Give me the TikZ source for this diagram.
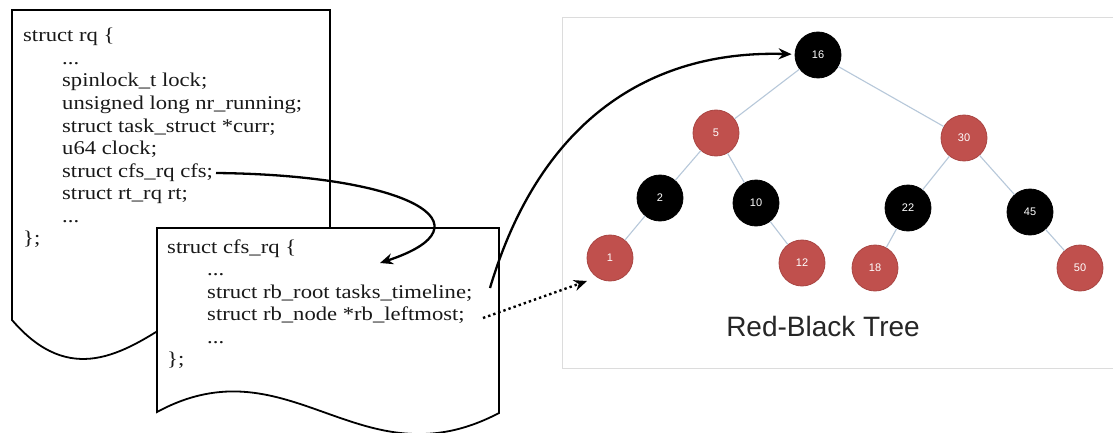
\documentclass[tikz,border=0pt]{standalone}
\usepackage{fontspec}
\setmainfont{Liberation Serif}[FakeStretch=1.16]
\newfontfamily\treefont{Liberation Sans}
\usetikzlibrary{arrows.meta}
\definecolor{rbred}{HTML}{C0504D}
\definecolor{rbredline}{HTML}{A94542}
\definecolor{edgecol}{HTML}{B7C8DA}
\definecolor{boxcol}{HTML}{DCDCDC}
\newcommand\codesize{\fontsize{19.5}{22.5}\selectfont}
\begin{document}
\begin{tikzpicture}[x=1pt,y=-1pt,
  docshape/.style={draw=black, line width=1.8pt, fill=white, line join=miter},
  code/.style={anchor=base west, inner sep=0pt, font=\codesize, text=black!90},
  rbnode/.style={circle, minimum size=46pt, inner sep=0pt, line width=0.8pt,
                 font=\treefont\fontsize{11}{11}\selectfont, text=white},
  blknode/.style={rbnode, fill=black, draw=black},
  rednode/.style={rbnode, fill=rbred, draw=rbredline},
  treeedge/.style={draw=edgecol, line width=1.1pt},
  arr/.style={-{Stealth[length=13pt,width=11pt]}, line width=2.3pt},
  dotarr/.style={-{Stealth[length=13pt,width=11pt]}, line width=2.4pt,
                 dash pattern=on 2.4pt off 3pt}]
\useasboundingbox (0,0) rectangle (1113,433);
\fill[white] (0,0) rectangle (1113,433);

% tree panel frame
\draw[boxcol, line width=0.8pt] (1113,17) -- (562,17) -- (562,368) -- (1113,368);

% document 1: struct rq
\path[docshape] (12,10) -- (330,10) -- (330,320)
   .. controls (224,185) and (128,455) .. (12,320) -- cycle;
\node[code] (rq0) at (23,42)    {struct rq \{};
\node[code] (rq1) at (62,64.5)  {...};
\node[code] (rq2) at (62,87)    {spinlock\_t lock;};
\node[code] (rq3) at (62,109.5) {unsigned long nr\_running;};
\node[code] (rq4) at (62,132)   {struct task\_struct *curr;};
\node[code] (rq5) at (62,154.5) {u64 clock;};
\node[code] (rq6) at (62,177)   {struct cfs\_rq cfs;};
\node[code] (rq7) at (62,199.5) {struct rt\_rq rt;};
\node[code] (rq8) at (62,222)   {...};
\node[code] (rq9) at (23,244.5) {\};};

% document 2: struct cfs_rq
\path[docshape] (157,228) -- (499,228) -- (499,413)
   .. controls (360,486) and (290,340) .. (157,412) -- cycle;
\node[code] (cf0) at (167,253)   {struct cfs\_rq \{};
\node[code] (cf1) at (207,275.5) {...};
\node[code] (cf2) at (207,298)   {struct rb\_root tasks\_timeline;};
\node[code] (cf3) at (207,320.5) {struct rb\_node *rb\_leftmost;};
\node[code] (cf4) at (207,343)   {...};
\node[code] (cf5) at (167,365.5) {\};};

% red-black tree
\node[blknode] (n16) at (818,55)  {16};
\node[rednode] (n5)  at (716,133) {5};
\node[rednode] (n30) at (964,138) {30};
\node[blknode] (n2)  at (660,198) {2};
\node[blknode] (n10) at (756,203) {10};
\node[blknode] (n22) at (908,208) {22};
\node[blknode] (n45) at (1030,212) {45};
\node[rednode] (n1)  at (610,258) {1};
\node[rednode] (n12) at (802,263) {12};
\node[rednode] (n18) at (875,268) {18};
\node[rednode] (n50) at (1080,268) {50};
\foreach \a/\b in {n16/n5,n16/n30,n5/n2,n5/n10,n30/n22,n30/n45,n2/n1,n10/n12,n22/n18,n45/n50}
  \draw[treeedge] (\a) -- (\b);
\node[font=\treefont\fontsize{28}{28}\selectfont, text=black!85] (title) at (823,326) {Red-Black Tree};

% connectors
\coordinate (a1s) at (216,173);
\coordinate (a1e) at (380,263);
\coordinate (a2s) at (490,288);
\coordinate (a3s) at (483,318);
\coordinate (a3e) at (587,281);
\draw[arr] (a1s) .. controls (410,175) and (495,225) .. (a1e);
\draw[arr, shorten >=3pt] (a2s) .. controls (540,120) and (650,50) .. (n16);
\draw[dotarr] (a3s) -- (a3e);
\end{tikzpicture}
\end{document}
